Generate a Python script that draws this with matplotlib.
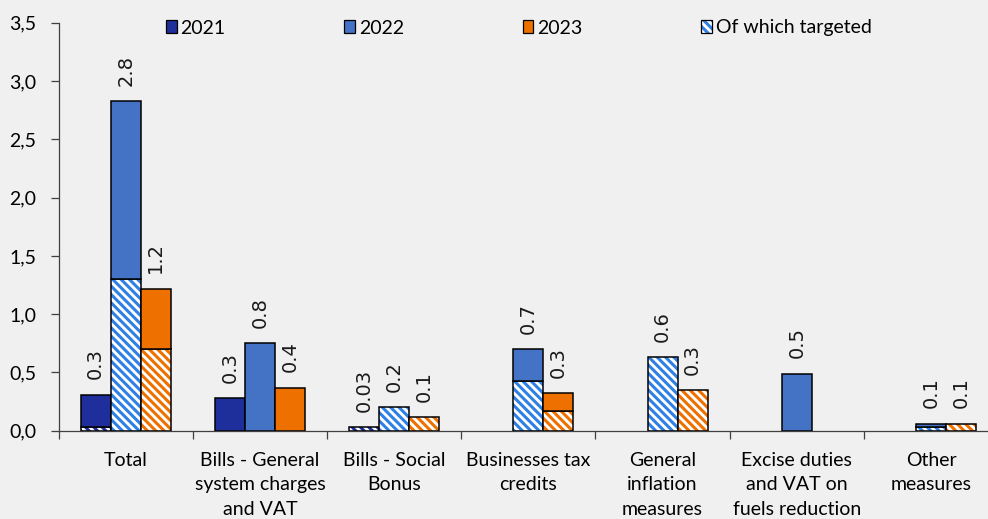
import matplotlib
matplotlib.use('Agg')
import matplotlib.pyplot as plt
from matplotlib.patches import Patch
import numpy as np

categories = ['Total', 'Bills - General\nsystem charges\nand VAT', 'Bills - Social\nBonus',
              'Businesses tax\ncredits', 'General\ninflation\nmeasures',
              'Excise duties\nand VAT on\nfuels reduction', 'Other\nmeasures']
years = ['2021', '2022', '2023']

# total measures by year (bn), including the targeted share
total_2021 = [0.31, 0.28, 0.03, 0.0, 0.0, 0.0, 0.0]
total_2022 = [2.83, 0.75, 0.20, 0.70, 0.63, 0.49, 0.06]
total_2023 = [1.22, 0.37, 0.12, 0.32, 0.35, 0.0, 0.06]

# of which targeted
targeted_2021 = [0.03, 0.0, 0.03, 0.0, 0.0, 0.0, 0.0]
targeted_2022 = [1.30, 0.0, 0.20, 0.43, 0.63, 0.0, 0.035]
targeted_2023 = [0.70, 0.0, 0.12, 0.17, 0.35, 0.0, 0.06]

yticks = [0.0, 0.5, 1.0, 1.5, 2.0, 2.5, 3.0, 3.5]
ytick_labels = ['0,0', '0,5', '1,0', '1,5', '2,0', '2,5', '3,0', '3,5']

bg = '#f0f0f0'
solid_colors = ['#1e2f9c', '#4472c4', '#ee7100']
hatch_colors = ['#1e2f9c', '#2f80e4', '#ee7100']
hatch = '\\\\\\\\'

plt.rcParams['font.family'] = 'Lato'
plt.rcParams['hatch.linewidth'] = 2.2

fig = plt.figure(figsize=(9.88, 5.19), dpi=100, facecolor=bg)
ax = fig.add_axes([0.0594, 0.170, 0.9508, 0.786])
ax.set_facecolor(bg)

x = np.arange(len(categories))
w = 0.224

series = zip([total_2021, total_2022, total_2023],
             [targeted_2021, targeted_2022, targeted_2023],
             solid_colors, hatch_colors)
for i, (tot, tgt, sc, hc) in enumerate(series):
    tot = np.array(tot)
    tgt = np.array(tgt)
    pos = x + (i - 1) * w
    rest = tot - tgt
    m = tgt > 0
    ax.bar(pos[m], tgt[m], w, color='white', edgecolor=hc, hatch=hatch, linewidth=0)
    ax.bar(pos[m], tgt[m], w, fill=False, edgecolor='black', linewidth=1.1)
    m = rest > 0.001
    ax.bar(pos[m], rest[m], w, bottom=tgt[m], color=sc, edgecolor='black', linewidth=1.1)
    for p, v in zip(pos, tot):
        if v <= 0:
            continue
        txt = f'{v:.2f}' if v < 0.05 else f'{v:.1f}'
        ax.annotate(txt, (p, v), xytext=(0, 11), textcoords='offset points',
                    rotation=90, ha='center', va='bottom', fontsize=14,
                    family='DejaVu Sans', color='#1a1a1a')

ax.set_xlim(-0.5, 6.5)
ax.set_ylim(0, 3.5)
ax.set_yticks(yticks)
ax.set_yticklabels(ytick_labels)
ax.set_xticks(np.arange(-0.5, 7, 1))
ax.set_xticklabels([])
ax.set_xticks(x, minor=True)
ax.set_xticklabels(categories, minor=True)
for lab in ax.get_xticklabels(minor=True):
    lab.set_linespacing(1.55)

ax.tick_params(axis='y', length=6, width=0.9, color='#404040', labelsize=14, pad=10)
ax.tick_params(axis='x', which='major', length=6, width=0.9, color='#404040')
ax.tick_params(axis='x', which='minor', length=0, labelsize=14, pad=15)
for s in ['top', 'right']:
    ax.spines[s].set_visible(False)
for s in ['left', 'bottom']:
    ax.spines[s].set_color('#404040')
    ax.spines[s].set_linewidth(0.9)

handles = [Patch(facecolor=c, edgecolor='black', linewidth=0.9) for c in solid_colors]
handles.append((Patch(facecolor='white', edgecolor=hatch_colors[1], hatch=hatch, linewidth=0),
                Patch(fill=False, edgecolor='black', linewidth=0.9)))
fig.legend(handles, years + ['Of which targeted'], loc='center left',
           bbox_to_anchor=(166 / 988, 1 - 28 / 519), ncol=4, frameon=False,
           fontsize=14, handlelength=0.55, handleheight=0.65, handletextpad=0.2,
           columnspacing=6.1, borderpad=0, borderaxespad=0)

fig.savefig('out.png', dpi=100, facecolor=bg)
